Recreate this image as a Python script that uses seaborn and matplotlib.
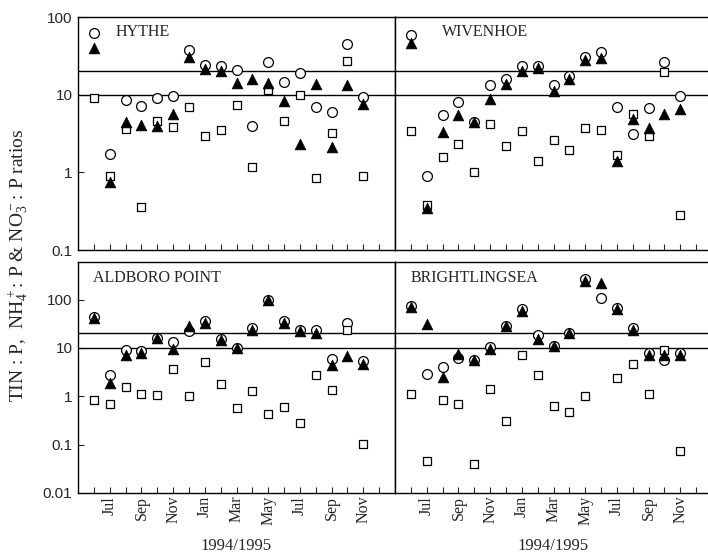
import numpy as np
import pandas as pd
import matplotlib.pyplot as plt
import seaborn as sns
from matplotlib.ticker import NullLocator, FixedLocator, FixedFormatter

# monthly sampling, Jun 1994 (-1) .. Nov 1995 (16), Jul 1994 = 0
months = list(range(-1, 17))
label_months = list(range(0, 17, 2))
month_labels = ["Jul", "Sep", "Nov", "Jan", "Mar", "May", "Jul", "Sep", "Nov"]

hythe_tin = [62, 1.74, 8.6, 7.2, 9.0, 9.5, 38, 23.8, 23.1, 21, 4.0, 26, 14.6, 19.0, 6.9, 5.9, 45, 9.2]
hythe_nh4 = [40, 0.74, 4.5, 4.1, 3.9, 5.6, 31, 21.4, 20.4, 14.2, 15.9, 14.2, 8.4, 2.3, 13.7, 2.1, 13.5, 7.6]
hythe_no3 = [9.1, 0.89, 3.6, 0.36, 4.6, 3.8, 6.9, 2.9, 3.5, 7.4, 1.16, 11.6, 4.6, 9.9, 0.84, 3.2, 27, 0.91]

wiv_tin = [58, 0.91, 5.4, 8.1, 4.5, 13.5, 16.1, 23.1, 23.1, 13.5, 17.6, 30.5, 35, 6.9, 3.1, 6.7, 26, 9.5]
wiv_nh4 = [46, 0.35, 3.3, 5.5, 4.4, 8.8, 13.7, 20, 22, 11, 15.9, 28, 30, 1.41, 4.9, 3.7, 5.6, 6.5]
wiv_no3 = [3.4, 0.38, 1.58, 2.3, 1.01, 4.2, 2.2, 3.4, 1.39, 2.6, 1.96, 3.7, 3.5, 1.66, 5.7, 2.9, 19.6, 0.285]

ald_tin = [44, 2.7, 8.9, 8.5, 16.4, 13.3, 22.4, 36, 15.6, 10.2, 25.9, 97, 35.6, 24, 24, 5.9, 33, 5.4]
ald_nh4 = [41, 1.9, 7.0, 7.9, 16.4, 9.7, 28, 33, 14.4, 10.2, 24, 97, 33, 22, 20.4, 4.4, 6.7, 4.7]
ald_no3 = [0.85, 0.71, 1.55, 1.1, 1.07, 3.7, 1.0, 5.1, 1.83, 0.57, 1.27, 0.44, 0.60, 0.28, 2.8, 1.38, 24, 0.105]

bri_tin = [74, 2.9, 4.0, 6.2, 5.7, 10.5, 28, 63, 18.3, 10.8, 20.7, 272, 110, 66, 26.4, 8.0, 5.7, 7.8]
bri_nh4 = [72, 32, 2.5, 7.6, 5.7, 9.4, 28, 58, 15.6, 10.8, 20.7, 239, 220, 64, 23, 7.2, 7.0, 7.2]
bri_no3 = [1.14, 0.047, 0.83, 0.71, 0.039, 1.44, 0.31, 7.3, 2.8, 0.62, 0.47, 1.0, np.nan, 2.4, 4.7, 1.1, 8.9, 0.073]

sites = [
    ("HYTHE", hythe_tin, hythe_nh4, hythe_no3),
    ("WIVENHOE", wiv_tin, wiv_nh4, wiv_no3),
    ("ALDBORO POINT", ald_tin, ald_nh4, ald_no3),
    ("BRIGHTLINGSEA", bri_tin, bri_nh4, bri_no3),
]

sns.set_theme(style="ticks")
plt.rcParams["font.family"] = ["Liberation Serif", "DejaVu Serif"]
plt.rcParams["mathtext.fontset"] = "custom"
plt.rcParams["mathtext.rm"] = "Liberation Serif"

fig = plt.figure(figsize=(7.08, 5.55), dpi=100)
W, H = 708.0, 555.0
boxes = [
    (78, 17, 317, 233),
    (395, 17, 317, 233),
    (78, 262, 317, 231),
    (395, 262, 317, 231),
]
title_pos = [(0.12, 0.935), (0.148, 0.935), (0.047, 0.93), (0.05, 0.93)]

for i, (name, tin, nh4, no3) in enumerate(sites):
    x0, y0, w, h = boxes[i]
    ax = fig.add_axes([x0 / W, 1 - (y0 + h) / H, w / W, h / H])
    ax.set_yscale("log")

    df = pd.DataFrame({"month": months, "tin": tin, "nh4": nh4, "no3": no3})
    sns.scatterplot(data=df, x="month", y="tin", ax=ax, marker="o", s=50,
                    color="white", edgecolor="black", linewidth=0.9, zorder=3)
    sns.scatterplot(data=df, x="month", y="no3", ax=ax, marker="s", s=40,
                    color="white", edgecolor="black", linewidth=0.9, zorder=4)
    sns.scatterplot(data=df, x="month", y="nh4", ax=ax, marker="^", s=60,
                    color="black", edgecolor="black", linewidth=0.5, zorder=5)

    ax.axhline(10, color="black", lw=1.0, zorder=1)
    ax.axhline(20, color="black", lw=1.0, zorder=1)

    ax.set_xlim(-2, 18)
    if i < 2:
        ax.set_ylim(0.1, 100)
        yt = [0.1, 1, 10, 100]
        ytl = ["0.1", "1", "10", "100"]
    else:
        ax.set_ylim(0.01, 600)
        yt = [0.01, 0.1, 1, 10, 100]
        ytl = ["0.01", "0.1", "1", "10", "100"]

    ax.xaxis.set_major_locator(FixedLocator(list(range(-1, 18))))
    if i >= 2:
        labs = []
        for m in range(-1, 18):
            labs.append(month_labels[label_months.index(m)] if m in label_months else "")
        ax.xaxis.set_major_formatter(FixedFormatter(labs))
        ax.tick_params(axis="x", labelrotation=90, labelsize=11.5)
        ax.set_xlabel("1994/1995", fontsize=12, labelpad=9)
    else:
        ax.set_xticklabels([])
        ax.set_xlabel("")
    ax.tick_params(axis="x", direction="in", length=4, width=0.8, pad=2, top=False)

    ax.yaxis.set_minor_locator(NullLocator())
    if i % 2 == 0:
        ax.yaxis.set_major_locator(FixedLocator(yt))
        ax.yaxis.set_major_formatter(FixedFormatter(ytl))
        ax.tick_params(axis="y", direction="in", length=4, width=0.8, pad=4,
                       labelsize=11, labelfontfamily="Liberation Sans")
    else:
        ax.set_yticks([])
    ax.set_ylabel("")

    for s in ax.spines.values():
        s.set_linewidth(1.0)
        s.set_color("black")

    ax.text(title_pos[i][0], title_pos[i][1], name, transform=ax.transAxes,
            fontsize=11.5, va="center", ha="left")

fig.text(18 / W, 1 - 265 / H,
         r"TIN : P,  NH$\mathregular{_4^+}$: P & NO$\mathregular{_3^-}$: P ratios",
         rotation=90, fontsize=14, ha="center", va="center")

fig.savefig("out.png", dpi=100)
